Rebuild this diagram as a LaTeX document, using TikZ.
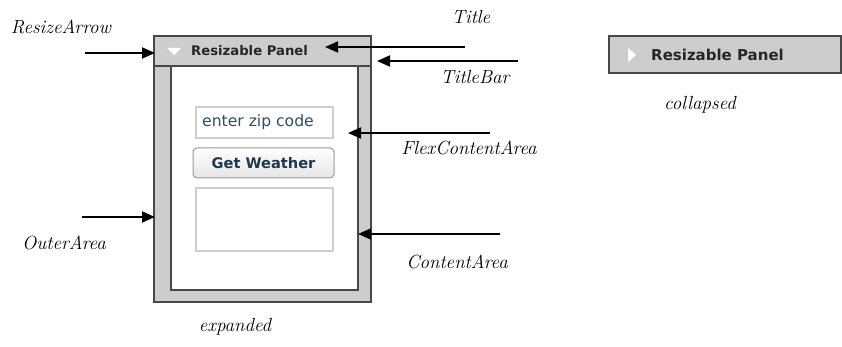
\documentclass[tikz,border=0pt]{standalone}
\usepackage{fontspec}
\newfontfamily\uifont{DejaVu Sans}
\usetikzlibrary{arrows.meta}
\definecolor{panelgray}{HTML}{CDCDCD}
\definecolor{edgegray}{HTML}{484848}
\definecolor{boxgray}{HTML}{CFCFCF}
\definecolor{zipblue}{HTML}{2E4D68}
\definecolor{btnblue}{HTML}{1E3850}
\tikzset{
  callout/.style={-{Triangle[length=13pt,width=11pt]}, line width=1.8pt},
  tag/.style={font=\fontsize{19}{22}\selectfont\itshape},
  panelframe/.style={fill=panelgray, draw=edgegray, line width=1.5pt},
  fieldbox/.style={draw=boxgray, line width=1.2pt, fill=white},
  titletext/.style={text=black!85, inner sep=0pt}
}
\begin{document}
\begin{tikzpicture}[x=1pt,y=-1pt]
\useasboundingbox (0,0) rectangle (842,347);
% Panel (expanded)
\draw[panelframe] (154,36) rectangle (371,302);
\draw[fill=white, draw=edgegray, line width=1.5pt] (171,66) rectangle (358,290);
\draw[panelframe] (154,36) rectangle (371,66);
\fill[white] (167,48) -- (181,48) -- (174,55) -- cycle;
\node[titletext, anchor=west, font=\uifont\bfseries\fontsize{13.2}{15}\selectfont] (title) at (191,51) {Resizable Panel};
% Contenido
\node[fieldbox, minimum width=137pt, minimum height=31pt] (zip) at (264.5,122.5) {};
\node[font=\uifont\fontsize{15.6}{17}\selectfont, text=zipblue, anchor=west, inner sep=0pt] (ziptext) at (202,122.5) {enter zip code};
\node[draw=black!40, line width=1pt, rounded corners=4pt, top color=white, bottom color=black!10,
  minimum width=141pt, minimum height=30pt, font=\uifont\bfseries\fontsize{14.6}{17}\selectfont,
  text=btnblue] (button) at (263.5,163) {Get Weather};
\node[fieldbox, minimum width=137pt, minimum height=63pt] (result) at (264.5,219.5) {};
% Panel (collapsed)
\draw[panelframe] (609,36) rectangle (841,73);
\fill[white] (628,48) -- (636,55) -- (628,62) -- cycle;
\node[titletext, anchor=west, font=\uifont\bfseries\fontsize{15}{17}\selectfont] (ctitle) at (651,55) {Resizable Panel};
% Etiquetas
\node[tag] (lresize) at (61,27) {ResizeArrow};
\node[tag] (ltitle) at (471,17) {Title};
\node[tag] (ltitlebar) at (475,77) {TitleBar};
\node[tag] (lflex) at (469,148) {FlexContentArea};
\node[tag] (louter) at (64,243) {OuterArea};
\node[tag] (lcontent) at (457,262) {ContentArea};
\node[tag] (lexpanded) at (235,327) {expanded};
\node[tag] (lcollapsed) at (700,105) {collapsed};
% Flechas
\coordinate (resizeTail) at (85,53);
\coordinate (resizeTip) at (155,53);
\coordinate (titleTail) at (465,47);
\coordinate (titleTip) at (325,47);
\coordinate (barTail) at (518,61);
\coordinate (barTip) at (377,61);
\coordinate (flexTail) at (490,133);
\coordinate (flexTip) at (348,133);
\coordinate (contentTail) at (500,234);
\coordinate (contentTip) at (358,234);
\coordinate (outerTail) at (82,217);
\coordinate (outerTip) at (155,217);
\draw[callout] (resizeTail) -- (resizeTip);
\draw[callout] (titleTail) -- (titleTip);
\draw[callout] (barTail) -- (barTip);
\draw[callout] (flexTail) -- (flexTip);
\draw[callout] (contentTail) -- (contentTip);
\draw[callout] (outerTail) -- (outerTip);
\end{tikzpicture}
\end{document}
